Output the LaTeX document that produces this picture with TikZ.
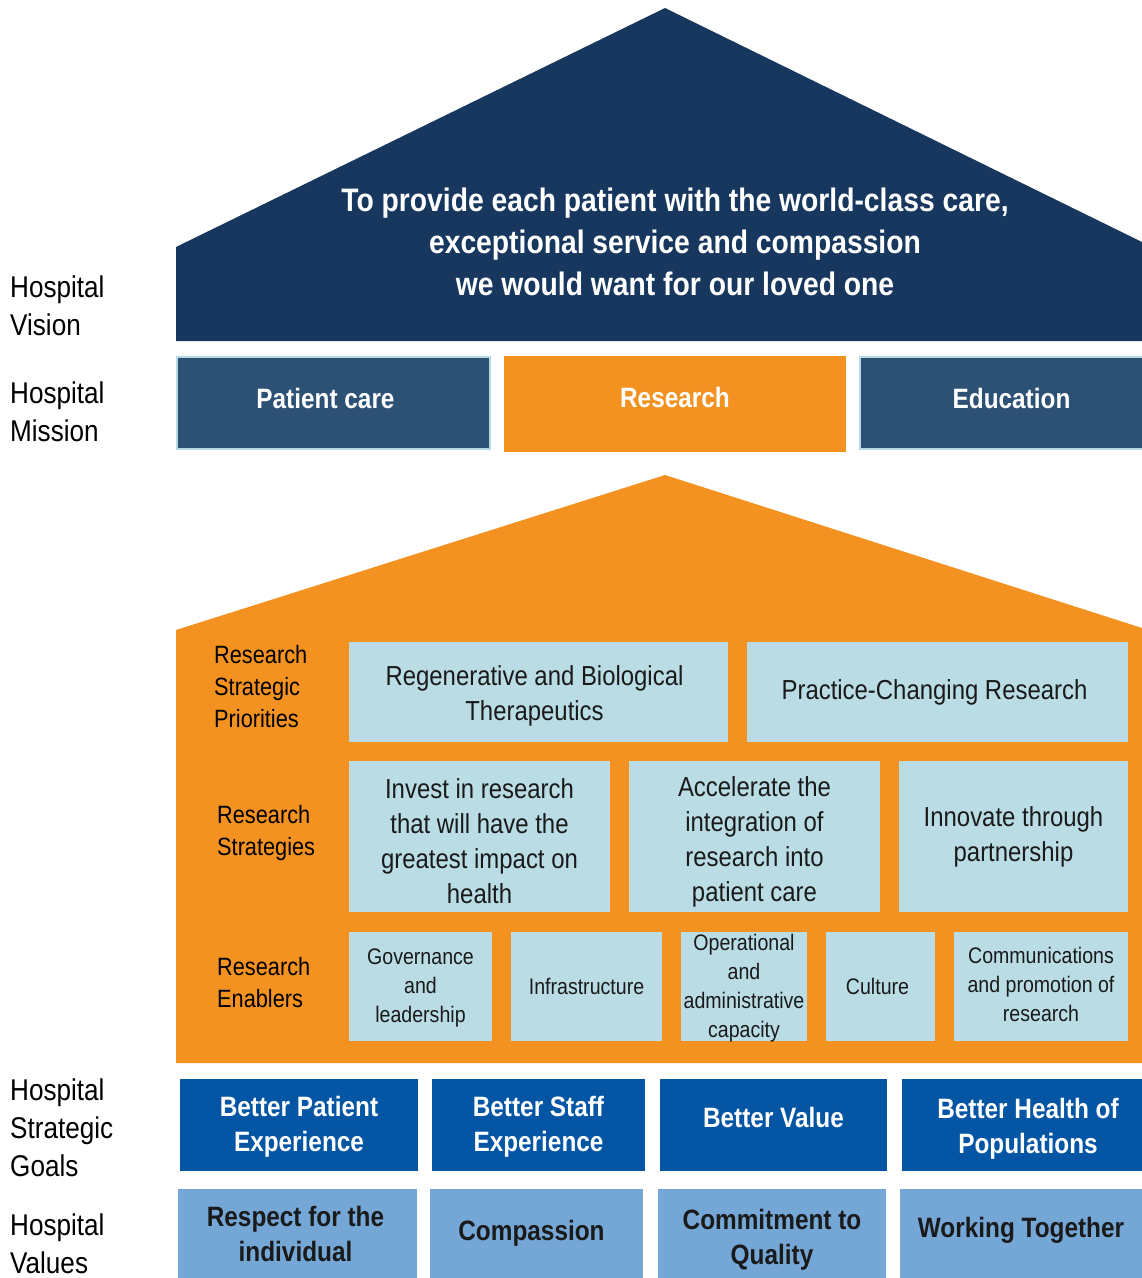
\documentclass[tikz,border=0pt]{standalone}
\usepackage{fontspec}
\setmainfont{Liberation Sans}[FakeStretch=0.87]
\definecolor{navy}{HTML}{17375E}
\definecolor{mission}{HTML}{2D5075}
\definecolor{mborder}{HTML}{B7D9E3}
\definecolor{orng}{HTML}{F39220}
\definecolor{lblue}{HTML}{BADCE5}
\definecolor{goal}{HTML}{0455A4}
\definecolor{val}{HTML}{74A6D6}
\definecolor{txt}{HTML}{1A1A1A}
\tikzset{
  side/.style={anchor=west, align=left, inner sep=0pt, text=black, font=\fontsize{30}{38}\selectfont},
  inlab/.style={anchor=west, align=left, inner sep=0pt, text=black, font=\fontsize{25}{32}\selectfont},
  mbox/.style={fill=mission, draw=mborder, line width=2pt, inner sep=0pt},
  rbox/.style={fill=orng, inner sep=0pt},
  pbox/.style={fill=lblue, inner sep=0pt},
  gbox/.style={fill=goal, inner sep=0pt},
  vbox/.style={fill=val, inner sep=0pt},
  mtext/.style={text=white, inner sep=0pt, font=\bfseries\fontsize{28}{34}\selectfont},
  ptext/.style={inner sep=0pt, align=center, text=txt, font=\fontsize{27.5}{35}\selectfont},
  etext/.style={inner sep=0pt, align=center, text=txt, font=\fontsize{22.5}{29}\selectfont},
  gtext/.style={inner sep=0pt, align=center, text=white, font=\bfseries\fontsize{28}{35}\selectfont},
  vtext/.style={inner sep=0pt, align=center, text=txt, font=\bfseries\fontsize{28}{35}\selectfont},
}
\begin{document}
\begin{tikzpicture}[x=1pt,y=-1pt]
\useasboundingbox[fill=white] (0,0) rectangle (1142,1278);
% vision house
\fill[navy] (176,341) -- (176,247) -- (665,8) -- (1142,242) -- (1142,341) -- cycle;
\node[align=center, text=white, font=\bfseries\fontsize{32.5}{42}\selectfont, inner sep=0pt] (vision) at (675,242)
 {To provide each patient with the world-class care,\\exceptional service and compassion\\we would want for our loved one};
% side labels
\node[side] (lvis) at (10,306) {Hospital\\Vision};
\node[side] (lmis) at (10,412) {Hospital\\Mission};
\node[side] (lgoal) at (10,1128) {Hospital\\Strategic\\Goals};
\node[side] (lval) at (10,1244) {Hospital\\Values};
% mission
\node[mbox, minimum width=313pt, minimum height=92pt] (pc) at (333.5,403) {};
\node[mtext] (pct) at ([xshift=-8pt,yshift=5pt]pc.center) {Patient care};
\node[rbox, minimum width=342pt, minimum height=96pt] (res) at (675,404) {};
\node[mtext] (rest) at ([yshift=7pt]res.center) {Research};
\node[mbox, minimum width=283pt, minimum height=92pt] (edu) at (1001.5,403) {};
\node[mtext] (edut) at ([xshift=10pt,yshift=5pt]edu.center) {Education};
% research house
\fill[orng] (176,1063) -- (176,630) -- (665,475) -- (1142,628) -- (1142,1063) -- cycle;
\node[inlab] (lpri) at (214,687) {Research\\Strategic\\Priorities};
\node[inlab] (lstr) at (217,833) {Research\\Strategies};
\node[inlab] (lena) at (217,983) {Research\\Enablers};
% priorities
\node[pbox, minimum width=379pt, minimum height=100pt] (p1) at (538.5,692) {};
\node[ptext] (p1t) at ([xshift=-4pt,yshift=-4pt]p1.center) {Regenerative and Biological\\Therapeutics};
\node[pbox, minimum width=381pt, minimum height=100pt] (p2) at (937.5,692) {};
\node[ptext] (p2t) at ([xshift=-3pt]p2.center) {Practice-Changing Research};
% strategies
\node[pbox, minimum width=261pt, minimum height=151pt] (s1) at (479.5,836.5) {};
\node[ptext] (s1t) at ([yshift=-5pt]s1.center) {Invest in research\\that will have the\\greatest impact on\\health};
\node[pbox, minimum width=251pt, minimum height=151pt] (s2) at (754.5,836.5) {};
\node[ptext] (s2t) at ([yshift=-5pt]s2.center) {Accelerate the\\integration of\\research into\\patient care};
\node[pbox, minimum width=229pt, minimum height=151pt] (s3) at (1013.5,836.5) {};
\node[ptext] (s3t) at (s3.center) {Innovate through\\partnership};
% enablers
\node[pbox, minimum width=143pt, minimum height=109pt] (e1) at (420.5,986.5) {};
\node[etext] (e1t) at ([yshift=-1pt]e1.center) {Governance\\and\\leadership};
\node[pbox, minimum width=151pt, minimum height=109pt] (e2) at (586.5,986.5) {};
\node[etext] (e2t) at (e2.center) {Infrastructure};
\node[pbox, minimum width=126pt, minimum height=109pt] (e3) at (744,986.5) {};
\node[etext] (e3t) at ([yshift=-2pt]e3.center) {Operational\\and\\administrative\\capacity};
\node[pbox, minimum width=109pt, minimum height=109pt] (e4) at (880.5,986.5) {};
\node[etext] (e4t) at ([xshift=-3pt]e4.center) {Culture};
\node[pbox, minimum width=174pt, minimum height=109pt] (e5) at (1041,986.5) {};
\node[etext] (e5t) at ([yshift=2pt]e5.center) {Communications\\and promotion of\\research};
% goals
\node[gbox, minimum width=238pt, minimum height=92pt] (g1) at (299,1125) {};
\node[gtext] (g1t) at ([yshift=-2pt]g1.center) {Better Patient\\Experience};
\node[gbox, minimum width=213pt, minimum height=92pt] (g2) at (538.5,1125) {};
\node[gtext] (g2t) at ([yshift=-2pt]g2.center) {Better Staff\\Experience};
\node[gbox, minimum width=227pt, minimum height=92pt] (g3) at (773.5,1125) {};
\node[gtext] (g3t) at ([yshift=8pt]g3.center) {Better Value};
\node[gbox, minimum width=240pt, minimum height=92pt] (g4) at (1022,1125) {};
\node[gtext] (g4t) at ([xshift=6pt,yshift=-4pt]g4.center) {Better Health of\\Populations};
% values
\node[vbox, minimum width=239pt, minimum height=89pt] (v1) at (297.5,1233.5) {};
\node[vtext] (v1t) at ([xshift=-2pt]v1.center) {Respect for the\\individual};
\node[vbox, minimum width=213pt, minimum height=89pt] (v2) at (536.5,1233.5) {};
\node[vtext] (v2t) at ([xshift=-5pt]v2.center) {Compassion};
\node[vbox, minimum width=228pt, minimum height=89pt] (v3) at (772,1233.5) {};
\node[vtext] (v3t) at ([yshift=-6pt]v3.center) {Commitment to\\Quality};
\node[vbox, minimum width=242pt, minimum height=89pt] (v4) at (1021,1233.5) {};
\node[vtext] (v4t) at ([yshift=3pt]v4.center) {Working Together};
\end{tikzpicture}
\end{document}
